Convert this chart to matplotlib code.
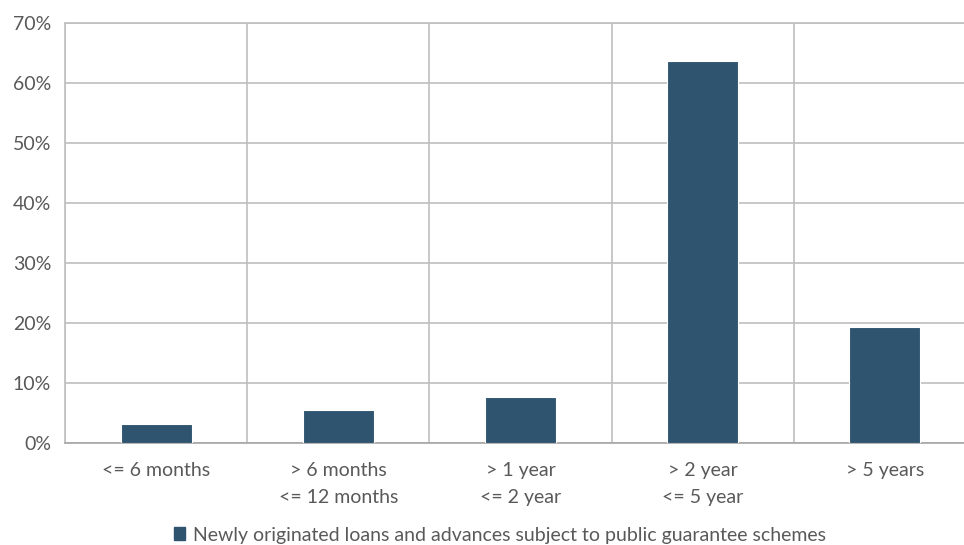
import numpy as np
import matplotlib.pyplot as plt
from matplotlib.patches import Patch

categories = ["<= 6 months", "> 6 months\n<= 12 months", "> 1 year\n<= 2 year",
              "> 2 year\n<= 5 year", "> 5 years"]
values = [3.25, 5.55, 7.75, 63.7, 19.3]
series_name = "Newly originated loans and advances subject to public guarantee schemes"

plt.rcParams["font.family"] = ["Lato", "DejaVu Sans"]
bar_color = "#2E5470"
text_color = "#595959"
grid_color = "#BFBFBF"
fs = 14

fig = plt.figure(figsize=(9.64, 5.45), dpi=100)
ax = fig.add_axes([65/964, 102/545, 911/964, 420/545])

x = np.arange(len(categories))
ax.bar(x, values, width=0.39, color=bar_color, edgecolor="white", linewidth=0.8, zorder=3)

ax.set_xlim(-0.5, len(categories) - 0.5)
ax.set_ylim(0, 70)
ax.set_yticks(np.arange(0, 71, 10))
ax.set_yticklabels([f"{v}%" for v in range(0, 71, 10)])
ax.set_xticks(x)
ax.set_xticklabels(categories, linespacing=1.7)
ax.set_xticks(np.arange(-0.5, len(categories), 1), minor=True)

ax.grid(axis="y", color=grid_color, linewidth=1.2, zorder=0)
ax.grid(axis="x", which="minor", color=grid_color, linewidth=1.2, zorder=0)
ax.grid(axis="x", which="major", visible=False)
for s in ax.spines.values():
    s.set_color(grid_color)
    s.set_linewidth(1.2)
ax.spines["bottom"].set_color("#A6A6A6")
ax.tick_params(which="both", length=0, colors=text_color, labelsize=fs)
ax.tick_params(axis="y", pad=10)
ax.tick_params(axis="x", pad=14)

fig.legend(handles=[Patch(color=bar_color, label=series_name)], loc="center",
           bbox_to_anchor=(500/964, 1 - 535/545), frameon=False, fontsize=fs,
           labelcolor=text_color, handlelength=0.6, handleheight=0.6, handletextpad=0.4)

fig.savefig("out.png", dpi=100)
